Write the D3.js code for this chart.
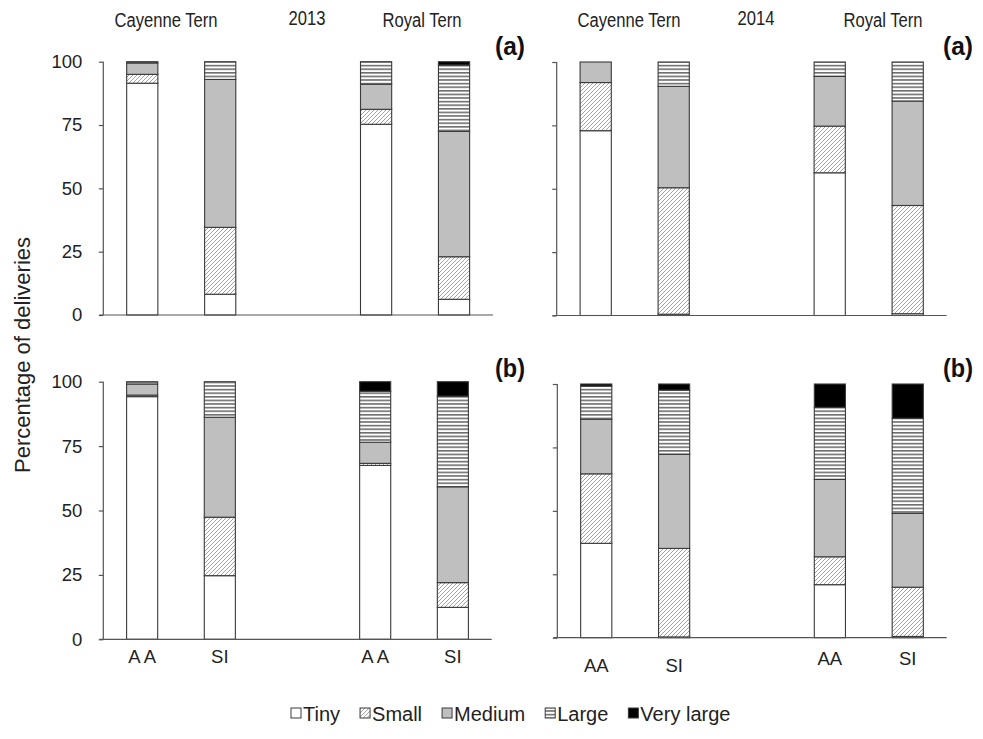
<!DOCTYPE html>
<html>
<head>
<meta charset="utf-8">
<script src="https://cdn.jsdelivr.net/npm/d3@7"></script>
<style>
  html, body { margin: 0; padding: 0; background: #fff; }
  svg { display: block; font-family: "Liberation Sans", Arial, sans-serif; }
</style>
</head>
<body>
<svg id="chart" width="983" height="739"></svg>
<script>
// Size classes of prey delivered, bottom to top of each stacked bar
const sizeClasses = ["Tiny", "Small", "Medium", "Large", "Very large"];
// Bars in each panel: species x delivery method
const bars = ["Cayenne AA", "Cayenne SI", "Royal AA", "Royal SI"];
const yTicks = [0, 25, 50, 75, 100];

// Percentage of deliveries by size class, one row per bar
const deliveries2013a = [
  [91.5, 3.5, 4.5, 0.5, 0],
  [8.2, 26.4, 58.4, 7.0, 0],
  [75.3, 5.9, 9.9, 8.9, 0],
  [6.2, 16.8, 49.5, 26.2, 1.3]
];
const deliveries2014a = [
  [72.9, 19.0, 8.1, 0, 0],
  [0.5, 49.9, 40.0, 9.6, 0],
  [56.3, 18.4, 19.6, 5.7, 0],
  [0.7, 42.7, 41.2, 15.4, 0]
];
const deliveries2013b = [
  [94.2, 0.6, 4.3, 0.9, 0],
  [24.7, 22.7, 38.8, 13.8, 0],
  [67.5, 0.8, 8.2, 19.8, 3.7],
  [12.4, 9.6, 37.2, 35.2, 5.6]
];
const deliveries2014b = [
  [37.2, 27.4, 21.5, 13.1, 0.8],
  [0.3, 34.9, 37.1, 25.3, 2.4],
  [20.9, 11.0, 30.5, 28.4, 9.2],
  [0.5, 19.4, 29.1, 37.5, 13.5]
];
const methodLabels2013 = ["A A", "SI", "A A", "SI"];
const methodLabels2014 = ["AA", "SI", "AA", "SI"];

const svg = d3.select("#chart");
const defs = svg.append("defs");

// Fill patterns
const diag = defs.append("pattern").attr("id", "hatchSmall")
  .attr("patternUnits", "userSpaceOnUse").attr("width", 4).attr("height", 4);
diag.append("rect").attr("width", 4).attr("height", 4).attr("fill", "#fff");
diag.append("path").attr("d", "M-1,1 l2,-2 M0,4 l4,-4 M3,5 l2,-2")
  .attr("stroke", "#8a8a8a").attr("stroke-width", 0.8);

const horiz = defs.append("pattern").attr("id", "hatchLarge")
  .attr("patternUnits", "userSpaceOnUse").attr("width", 6).attr("height", 3.6);
horiz.append("rect").attr("width", 6).attr("height", 3.6).attr("fill", "#fff");
horiz.append("rect").attr("y", 0).attr("width", 6).attr("height", 1.6).attr("fill", "#6e6e6e");

const fills = {
  "Tiny": "#ffffff",
  "Small": "url(#hatchSmall)",
  "Medium": "#bfbfbf",
  "Large": "url(#hatchLarge)",
  "Very large": "#000000"
};

const stack = d3.stack().keys(d3.range(sizeClasses.length));

// Slot layout: the two species are separated by one empty slot
const slots = ["Cayenne AA", "Cayenne SI", "gap", "Royal AA", "Royal SI"];

const panels = [
  { data: deliveries2013a, x0: 103.3, x1: 493, y0: 315, y1: 61.7, tickLabels: true, tag: "(a)", tagX: 510, tagY: 55 },
  { data: deliveries2014a, x0: 556.7, x1: 946.7, y0: 315.5, y1: 62, tickLabels: false, tag: "(a)", tagX: 958, tagY: 55 },
  { data: deliveries2013b, x0: 103.3, x1: 491.7, y0: 639.3, y1: 381.7, tickLabels: true, tag: "(b)", tagX: 510, tagY: 377,
    methods: methodLabels2013, methodY: [663, 663, 663, 663] },
  { data: deliveries2014b, x0: 557.3, x1: 946.7, y0: 637.7, y1: 384, tickLabels: false, tag: "(b)", tagX: 958, tagY: 377,
    methods: methodLabels2014, methodY: [672, 672, 665, 665] }
];

panels.forEach(p => {
  const g = svg.append("g");
  const x = d3.scaleBand().domain(slots).range([p.x0, p.x1])
    .paddingInner(0.6).paddingOuter(0.3);
  const y = d3.scaleLinear().domain([0, 100]).range([p.y0, p.y1]);

  const series = stack(p.data);
  series.forEach((s, k) => {
    g.append("g").selectAll("rect")
      .data(s.map((d, i) => ({ lo: d[0], hi: d[1], bar: bars[i] })).filter(d => d.hi - d.lo > 0))
      .join("rect")
      .attr("x", d => x(d.bar))
      .attr("width", x.bandwidth())
      .attr("y", d => y(d.hi))
      .attr("height", d => y(d.lo) - y(d.hi))
      .attr("fill", fills[sizeClasses[k]])
      .attr("stroke", "#3a3a3a")
      .attr("stroke-width", 1.1);
  });

  // Y axis
  const yAxis = d3.axisLeft(y).tickValues(yTicks).tickSize(4.5)
    .tickFormat(p.tickLabels ? d3.format("d") : "");
  const ya = g.append("g").attr("transform", `translate(${p.x0},0)`).call(yAxis);
  ya.select(".domain").attr("stroke", "#555").attr("stroke-width", 1.2)
    .attr("d", `M0,${p.y0}V${p.y1}`);
  ya.selectAll(".tick line").attr("stroke", "#555").attr("stroke-width", 1.2);
  ya.selectAll(".tick text").attr("x", -21).attr("font-size", 18.5)
    .attr("fill", "#222").attr("font-family", "Liberation Sans, Arial, sans-serif");

  // Baseline
  g.append("line").attr("x1", p.x0 - 4).attr("x2", p.x1)
    .attr("y1", p.y0).attr("y2", p.y0)
    .attr("stroke", "#555").attr("stroke-width", 1.2);

  // Panel tag
  g.append("text").attr("x", p.tagX).attr("y", p.tagY)
    .attr("text-anchor", "middle").attr("font-size", 25).attr("font-weight", "bold")
    .attr("textLength", 30).attr("lengthAdjust", "spacingAndGlyphs")
    .attr("fill", "#111").text(p.tag);

  // Delivery method labels
  if (p.methods) {
    g.selectAll(".method").data(bars).join("text")
      .attr("class", "method")
      .attr("x", d => x(d) + x.bandwidth() / 2)
      .attr("y", (d, i) => p.methodY[i])
      .attr("text-anchor", "middle").attr("font-size", 18.5).attr("fill", "#222")
      .text((d, i) => p.methods[i]);
  }
});

// Species / year headings, set in a condensed width
const headings = [
  { t: "Cayenne Tern", x: 166, y: 27 }, { t: "2013", x: 307, y: 25 }, { t: "Royal Tern", x: 422, y: 27 },
  { t: "Cayenne Tern", x: 629, y: 27 }, { t: "2014", x: 756, y: 25 }, { t: "Royal Tern", x: 883, y: 27 }
];
svg.selectAll(".heading").data(headings).join("text")
  .attr("class", "heading")
  .attr("x", d => d.x).attr("y", d => d.y)
  .attr("text-anchor", "middle").attr("font-size", 20).attr("fill", "#222")
  .text(d => d.t)
  .each(function () {
    const w = this.getComputedTextLength();
    d3.select(this).attr("textLength", w * 0.83).attr("lengthAdjust", "spacingAndGlyphs");
  });

// Y axis title
svg.append("text")
  .attr("transform", "translate(29.5,355) rotate(-90)")
  .attr("text-anchor", "middle").attr("font-size", 22).attr("fill", "#222")
  .text("Percentage of deliveries");

// Legend
const legend = svg.append("g").attr("transform", "translate(0,721)");
let lx = 291;
sizeClasses.forEach(s => {
  const item = legend.append("g").attr("transform", `translate(${lx},0)`);
  item.append("rect").attr("x", 0).attr("y", -13).attr("width", 10).attr("height", 10)
    .attr("fill", fills[s]).attr("stroke", "#3a3a3a").attr("stroke-width", 1);
  const t = item.append("text").attr("x", 12).attr("y", 0)
    .attr("font-size", 20).attr("fill", "#222").text(s);
  lx += 12 + t.node().getComputedTextLength() + 20;
});
</script>
</body>
</html>
